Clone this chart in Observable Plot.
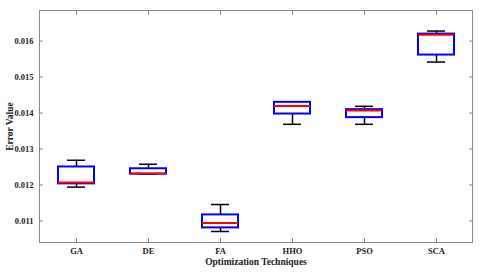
<!DOCTYPE html>
<html><head><meta charset="utf-8">
<script src="https://cdn.jsdelivr.net/npm/d3@7"></script>
<script src="https://cdn.jsdelivr.net/npm/@observablehq/plot@0.6"></script>
<style>
body{margin:0;background:#fff;}
#chart{position:relative;width:480px;height:272px;}
#chart svg{position:absolute;left:0;top:0;}
</style></head>
<body><div id="chart"></div>
<script>
const techniques = ["GA","DE","FA","HHO","PSO","SCA"];
const whiskerLow  = [0.01194, 0.01230, 0.010706, 0.013686, 0.013686, 0.015417];
const q1Values    = [0.01203, 0.01230, 0.010806, 0.013972, 0.013872, 0.015611];
const medianVals  = [0.012067,0.012317,0.010944, 0.014194, 0.014067, 0.016178];
const q3Values    = [0.01250, 0.01245, 0.011167, 0.014297, 0.014094, 0.016194];
const whiskerHigh = [0.012686,0.012575,0.011456, 0.014297, 0.014186, 0.016278];
const yTicks = [0.011,0.012,0.013,0.014,0.015,0.016];

const data = techniques.map((name,i)=>({name, lo:whiskerLow[i], q1:q1Values[i], med:medianVals[i], q3:q3Values[i], hi:whiskerHigh[i]}));

const font = "'Liberation Serif', 'Times New Roman', serif";
const plot = Plot.plot({
  width: 480, height: 272,
  marginLeft: 39, marginRight: 8, marginTop: 10, marginBottom: 30,
  style: {fontFamily: font, fontWeight: "bold", fontSize: "8.5px", color: "#222", background: "white"},
  x: {type: "band", domain: techniques, padding: 0},
  y: {domain: [0.0104, 0.01685]},
  marks: [
    Plot.frame({stroke: "#888"}),
    Plot.axisY({ticks: yTicks, tickFormat: d3.format(".3f"), tickSize: -4, tickPadding: 10, stroke: "#888", label: null}),
    Plot.axisY({anchor: "right", ticks: yTicks, tickFormat: () => "", tickSize: -4, stroke: "#888", label: null}),
    Plot.axisX({tickSize: -4, tickPadding: 9, stroke: "#888", label: null}),
    Plot.axisX({anchor: "top", tickFormat: () => "", tickSize: -4, stroke: "#888", label: null}),
    Plot.ruleX(data, {x: "name", y1: "lo", y2: "q1", stroke: "black", strokeWidth: 1.5}),
    Plot.ruleX(data, {x: "name", y1: "q3", y2: "hi", stroke: "black", strokeWidth: 1.5}),
    Plot.tickY(data, {x: "name", y: "lo", stroke: "black", strokeWidth: 1.5, inset: 27}),
    Plot.tickY(data, {x: "name", y: "hi", stroke: "black", strokeWidth: 1.5, inset: 27}),
    Plot.barY(data, {x: "name", y1: "q1", y2: "q3", fill: "white", stroke: "blue", strokeWidth: 2, insetLeft: 18, insetRight: 18}),
    Plot.tickY(data, {x: "name", y: "med", stroke: "red", strokeWidth: 2, inset: 18}),
    Plot.text(["Optimization Techniques"], {frameAnchor: "bottom", dy: 22, text: d => d, fontSize: 9.5}),
    Plot.text(["Error Value"], {frameAnchor: "left", textAnchor: "middle", dx: -30, rotate: -90, text: d => d, fontSize: 9.5})
  ]
});
document.getElementById("chart").appendChild(plot);
</script></body></html>
